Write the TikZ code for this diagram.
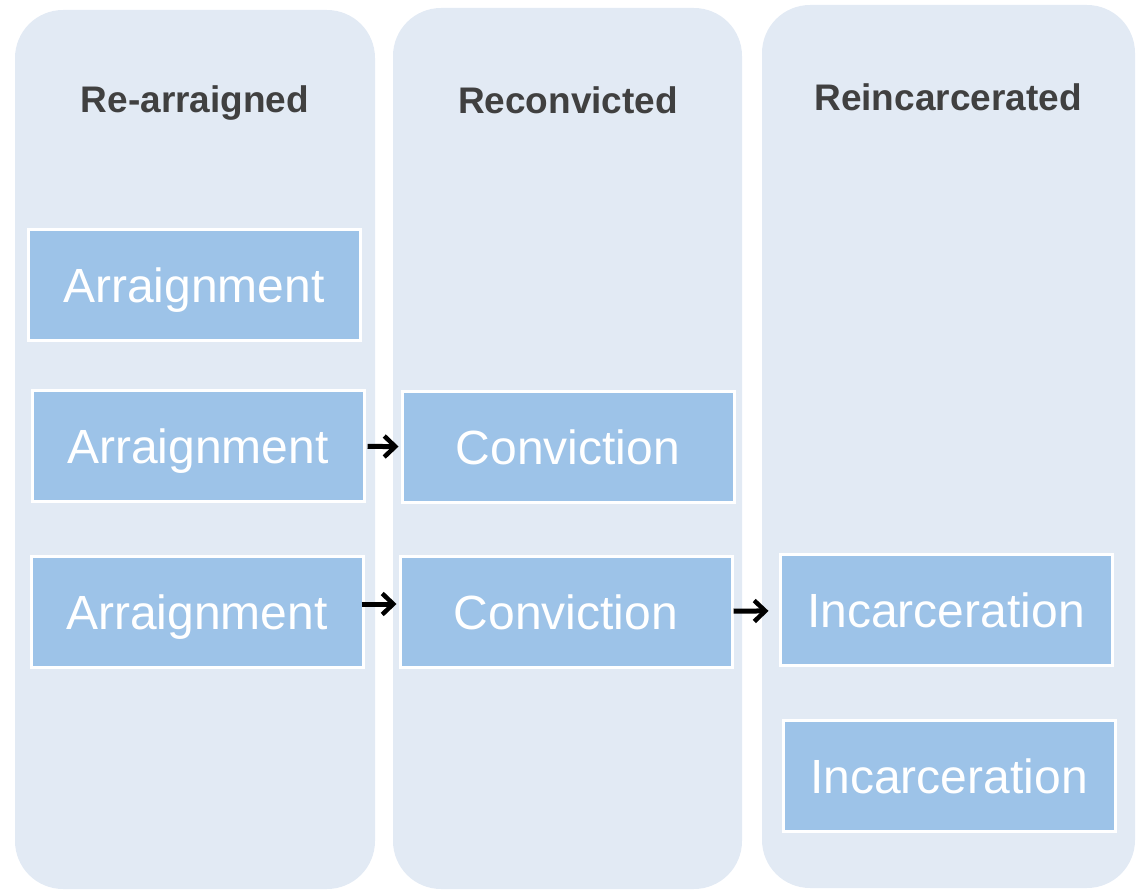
\documentclass[tikz,border=0pt]{standalone}
\usepackage{fontspec}
\setmainfont{Liberation Sans}
\usepackage{xcolor}
\usepackage{tikz}
\usetikzlibrary{arrows.meta}
\definecolor{lanefill}{HTML}{E2EAF4}
\definecolor{stagefill}{HTML}{9DC3E8}
\definecolor{headgray}{HTML}{404040}
\tikzstyle{lane}=[fill=lanefill,draw=none,rounded corners=48pt]
\tikzstyle{head}=[text=headgray,font=\fontsize{37}{42}\selectfont\bfseries]
\tikzstyle{stage}=[rectangle,fill=stagefill,draw=white,line width=3pt,minimum width=332pt,minimum height=111pt,text depth=0pt,text=white,font=\fontsize{48}{54}\selectfont]
\tikzstyle{hop}=[-{Straight Barb[length=11pt,width=21pt,line width=4.5pt]},line width=5pt,black]

\begin{document}
\begin{tikzpicture}[x=1pt,y=-1pt]
        \useasboundingbox (0,0) rectangle (1142,890);

        % the three lanes
        \fill [lane] (15,10) rectangle (375,889);
        \fill [lane] (393,8) rectangle (742,889);
        \fill [lane] (762,5) rectangle (1135,888);

        \node at (195,103) [head] (h1) {Re-arraigned};
        \node at (568,100) [head] (h2) {Reconvicted};
        \node at (948,97)  [head] (h3) {Reincarcerated};

        \node at (194,285) [stage] (a1) {Arraignment};
        \node at (198,446) [stage] (a2) {Arraignment};
        \node at (197,612) [stage] (a3) {Arraignment};
        \node at (568,447) [stage] (c1) {Conviction};
        \node at (566,612) [stage] (c2) {Conviction};
        \node at (946,610) [stage] (i1) {Incarceration};
        \node at (949,776) [stage] (i2) {Incarceration};

        \draw [hop,shorten <=2pt,shorten >=2pt] (a2) -- (c1);
        \draw [hop,shorten <=-3pt,shorten >=2pt] ([yshift=8pt]a3.east) -- ([yshift=8pt]c2.west);
        \draw [hop,shorten <=0pt,shorten >=10pt] (c2) -- (i1);
      \end{tikzpicture}
\end{document}
